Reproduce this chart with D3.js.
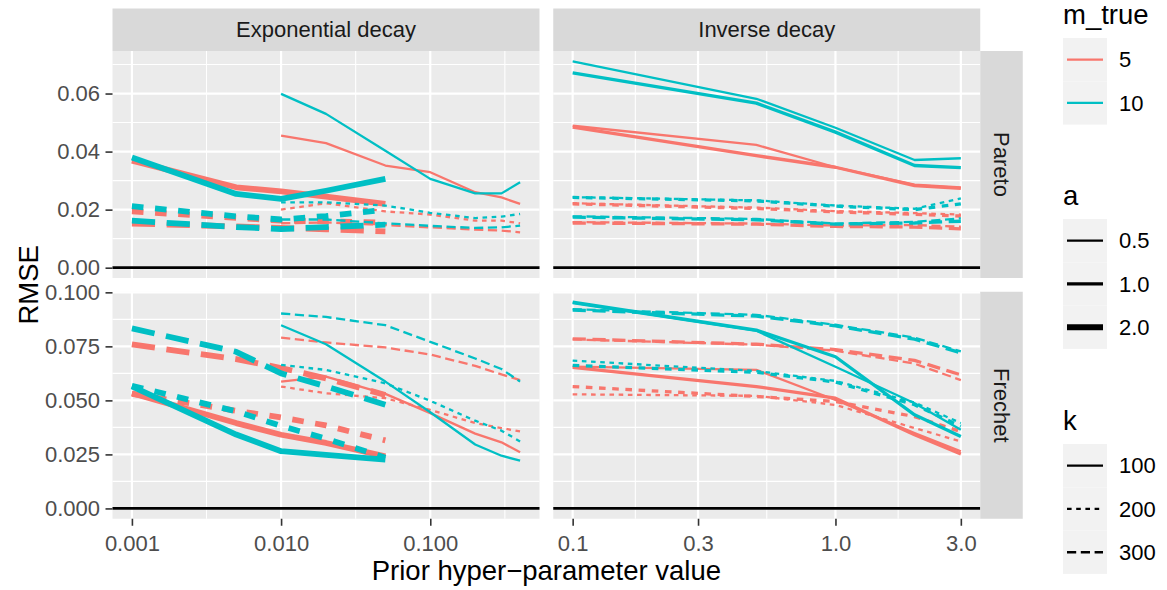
<!DOCTYPE html>
<html>
<head>
<meta charset="utf-8">
<title>RMSE by prior hyper-parameter</title>
<style>
  body { margin: 0; background: #fff; }
  svg text { font-family: 'Liberation Sans', Arial, Helvetica, sans-serif; }
</style>
</head>
<body>
<script src="https://d3js.org/d3.v7.min.js"></script>
<script>

    // hyper-parameter grids
    var xExpThin = [0.01, 0.02, 0.05, 0.1, 0.2, 0.3, 0.4];   // exponential decay, a = 0.5
    var xExpThick = [0.001, 0.005, 0.01, 0.02, 0.05];         // exponential decay, a = 2
    var xInv = [0.1, 0.5, 1, 2, 3];                           // inverse decay

    // rows: [m_true, a, k, RMSE values]
    var paretoExp = [
        [5, 0.5, 100, [0.0455, 0.0429, 0.0352, 0.0329, 0.0260, 0.0242, 0.0220]],
        [5, 0.5, 200, [0.0200, 0.0222, 0.0194, 0.0183, 0.0162, 0.0162, 0.0153]],
        [5, 0.5, 300, [0.0153, 0.0156, 0.0147, 0.0139, 0.0131, 0.0128, 0.0122]],
        [5, 2, 100, [0.0369, 0.0277, 0.0263, 0.0245, 0.0220]],
        [5, 2, 200, [0.0194, 0.0172, 0.0162, 0.0160, 0.0155]],
        [5, 2, 300, [0.0152, 0.0142, 0.0137, 0.0132, 0.0125]],
        [10, 0.5, 100, [0.0599, 0.0530, 0.0403, 0.0306, 0.0256, 0.0256, 0.0294]],
        [10, 0.5, 200, [0.0225, 0.0225, 0.0214, 0.0189, 0.0171, 0.0176, 0.0185]],
        [10, 0.5, 300, [0.0166, 0.0166, 0.0153, 0.0144, 0.0137, 0.0139, 0.0145]],
        [10, 2, 100, [0.0380, 0.0254, 0.0237, 0.0265, 0.0306]],
        [10, 2, 200, [0.0212, 0.0177, 0.0166, 0.0178, 0.0200]],
        [10, 2, 300, [0.0162, 0.0140, 0.0133, 0.0140, 0.0148]]
    ];

    var paretoInv = [
        [5, 0.5, 100, [0.0489, 0.0423, 0.0346, 0.0286, 0.0277]],
        [5, 0.5, 200, [0.0222, 0.0207, 0.0195, 0.0188, 0.0183]],
        [5, 0.5, 300, [0.0157, 0.0152, 0.0145, 0.0147, 0.0141]],
        [5, 1, 100, [0.0484, 0.0386, 0.0346, 0.0283, 0.0273]],
        [5, 1, 200, [0.0220, 0.0204, 0.0192, 0.0184, 0.0178]],
        [5, 1, 300, [0.0154, 0.0150, 0.0142, 0.0140, 0.0134]],
        [10, 0.5, 100, [0.0711, 0.0582, 0.0482, 0.0371, 0.0377]],
        [10, 0.5, 200, [0.0243, 0.0232, 0.0214, 0.0203, 0.0239]],
        [10, 0.5, 300, [0.0177, 0.0168, 0.0152, 0.0158, 0.0170]],
        [10, 1, 100, [0.0671, 0.0567, 0.0467, 0.0352, 0.0345]],
        [10, 1, 200, [0.0242, 0.0230, 0.0212, 0.0200, 0.0220]],
        [10, 1, 300, [0.0174, 0.0165, 0.0150, 0.0154, 0.0160]]
    ];

    var frechetExp = [
        [5, 0.5, 100, [0.0587, 0.0610, 0.0530, 0.0441, 0.0346, 0.0306, 0.0260]],
        [5, 0.5, 200, [0.0564, 0.0533, 0.0510, 0.0456, 0.0395, 0.0372, 0.0356]],
        [5, 0.5, 300, [0.0790, 0.0768, 0.0745, 0.0712, 0.0660, 0.0620, 0.0594]],
        [5, 2, 100, [0.0533, 0.0395, 0.0341, 0.0303, 0.0241]],
        [5, 2, 200, [0.0530, 0.0452, 0.0421, 0.0384, 0.0315]],
        [5, 2, 300, [0.0759, 0.0691, 0.0650, 0.0602, 0.0525]],
        [10, 0.5, 100, [0.0848, 0.0760, 0.0587, 0.0445, 0.0296, 0.0244, 0.0221]],
        [10, 0.5, 200, [0.0664, 0.0641, 0.0579, 0.0498, 0.0406, 0.0360, 0.0310]],
        [10, 0.5, 300, [0.0902, 0.0886, 0.0848, 0.0771, 0.0694, 0.0645, 0.0587]],
        [10, 2, 100, [0.0565, 0.0342, 0.0265, 0.0248, 0.0226]],
        [10, 2, 200, [0.0568, 0.0449, 0.0382, 0.0323, 0.0235]],
        [10, 2, 300, [0.0833, 0.0725, 0.0625, 0.0565, 0.0480]]
    ];

    var frechetInv = [
        [5, 0.5, 100, [0.0656, 0.0641, 0.0502, 0.0349, 0.0264]],
        [5, 0.5, 200, [0.0528, 0.0521, 0.0479, 0.0372, 0.0310]],
        [5, 0.5, 300, [0.0782, 0.0758, 0.0730, 0.0670, 0.0594]],
        [5, 1, 100, [0.0653, 0.0564, 0.0510, 0.0341, 0.0252]],
        [5, 1, 200, [0.0564, 0.0518, 0.0495, 0.0425, 0.0356]],
        [5, 1, 300, [0.0785, 0.0760, 0.0735, 0.0685, 0.0618]],
        [10, 0.5, 100, [0.0950, 0.0822, 0.0656, 0.0487, 0.0364]],
        [10, 0.5, 200, [0.0684, 0.0636, 0.0590, 0.0490, 0.0395]],
        [10, 0.5, 300, [0.0922, 0.0896, 0.0850, 0.0790, 0.0727]],
        [10, 1, 100, [0.0955, 0.0825, 0.0702, 0.0433, 0.0333]],
        [10, 1, 200, [0.0662, 0.0630, 0.0585, 0.0480, 0.0380]],
        [10, 1, 300, [0.0918, 0.0890, 0.0845, 0.0783, 0.0720]]
    ];

    var colNames = ["Exponential decay", "Inverse decay"];
    var rowNames = ["Pareto", "Frechet"];
    var xTicks = [[0.001, 0.01, 0.1], [0.1, 0.3, 1, 3]];
    var yTicks = [[0, 0.02, 0.04, 0.06], [0, 0.025, 0.05, 0.075, 0.1]];

    var mLevels = [5, 10], aLevels = [0.5, 1, 2], kLevels = [100, 200, 300];

    var width = 1167, height = 590;
    var panelW = 427, panelH = 227, gap = 13.75;
    var colX = [112.5, 112.5 + panelW + gap];
    var rowY = [51, 51 + panelH + gap];
    var stripSize = 42.5;

    var color = d3.scaleOrdinal().domain(mLevels).range(["#F8766D", "#00BFC4"]);
    var lineW = d3.scaleOrdinal().domain(aLevels).range([2.3, 3.3, 5.8]);
    function dash(k, w) {
        if (k === 200) return (2 * w) + "," + (2 * w);
        if (k === 300) return (4 * w) + "," + (2 * w);
        return null;
    }

    var panels = [
        {row: 0, col: 0, data: paretoExp},
        {row: 0, col: 1, data: paretoInv},
        {row: 1, col: 0, data: frechetExp},
        {row: 1, col: 1, data: frechetInv}
    ];

    function xsFor(col, a) {
        if (col === 1) return xInv;
        return a === 0.5 ? xExpThin : xExpThick;
    }

    // free scales: x per column, y per row
    var xScales = [0, 1].map(function (c) {
        var all = [];
        panels.filter(function (p) { return p.col === c; }).forEach(function (p) {
            p.data.forEach(function (s) { all = all.concat(xsFor(c, s[1])); });
        });
        var lo = Math.log10(d3.min(all)), hi = Math.log10(d3.max(all)), pad = 0.05 * (hi - lo);
        return d3.scaleLog().domain([Math.pow(10, lo - pad), Math.pow(10, hi + pad)]).range([0, panelW]);
    });
    var yScales = [0, 1].map(function (r) {
        var mx = 0;
        panels.filter(function (p) { return p.row === r; }).forEach(function (p) {
            p.data.forEach(function (s) { mx = Math.max(mx, d3.max(s[3])); });
        });
        return d3.scaleLinear().domain([-0.05 * mx, 1.05 * mx]).range([panelH, 0]);
    });

    function logMinor(scale, ticks) {
        var l = ticks.map(Math.log10), out = [];
        var step0 = l[1] - l[0], stepN = l[l.length - 1] - l[l.length - 2];
        out.push(l[0] - step0 / 2);
        for (var i = 0; i < l.length - 1; i++) out.push((l[i] + l[i + 1]) / 2);
        out.push(l[l.length - 1] + stepN / 2);
        var d = scale.domain().map(Math.log10);
        return out.filter(function (v) { return v > d[0] && v < d[1]; }).map(function (v) { return Math.pow(10, v); });
    }
    function linMinor(scale, ticks) {
        var step = ticks[1] - ticks[0], out = [];
        for (var v = ticks[0] - step / 2; v <= ticks[ticks.length - 1] + step; v += step) out.push(v);
        var d = scale.domain();
        return out.filter(function (v) { return v > d[0] && v < d[1]; });
    }

    var svg = d3.select("body").append("svg")
        .attr("width", width)
        .attr("height", height);

    svg.append("rect").attr("width", width).attr("height", height).attr("fill", "#fff");

    panels.forEach(function (p) {
        var xs = xScales[p.col], ys = yScales[p.row];
        var g = svg.append("g").attr("transform", "translate(" + colX[p.col] + "," + rowY[p.row] + ")");

        g.append("rect").attr("width", panelW).attr("height", panelH).attr("fill", "#EBEBEB");

        // minor grid
        logMinor(xs, xTicks[p.col]).forEach(function (v) {
            g.append("line").attr("x1", xs(v)).attr("x2", xs(v)).attr("y1", 0).attr("y2", panelH)
                .attr("stroke", "#fff").attr("stroke-width", 1.1);
        });
        linMinor(ys, yTicks[p.row]).forEach(function (v) {
            g.append("line").attr("y1", ys(v)).attr("y2", ys(v)).attr("x1", 0).attr("x2", panelW)
                .attr("stroke", "#fff").attr("stroke-width", 1.1);
        });
        // major grid
        xTicks[p.col].forEach(function (v) {
            g.append("line").attr("x1", xs(v)).attr("x2", xs(v)).attr("y1", 0).attr("y2", panelH)
                .attr("stroke", "#fff").attr("stroke-width", 2.2);
        });
        yTicks[p.row].forEach(function (v) {
            g.append("line").attr("y1", ys(v)).attr("y2", ys(v)).attr("x1", 0).attr("x2", panelW)
                .attr("stroke", "#fff").attr("stroke-width", 2.2);
        });

        // reference line at zero
        g.append("line").attr("x1", 0).attr("x2", panelW).attr("y1", ys(0)).attr("y2", ys(0))
            .attr("stroke", "#000").attr("stroke-width", 2.7);

        var line = d3.line().x(function (d) { return xs(d[0]); }).y(function (d) { return ys(d[1]); });

        p.data.forEach(function (s) {
            var xv = xsFor(p.col, s[1]);
            var pts = s[3].map(function (v, i) { return [xv[i], v]; });
            var w = lineW(s[1]);
            g.append("path")
                .datum(pts)
                .attr("d", line)
                .attr("fill", "none")
                .attr("stroke", color(s[0]))
                .attr("stroke-width", w)
                .attr("stroke-dasharray", dash(s[2], w))
                .attr("stroke-linejoin", "round");
        });

        // axes
        if (p.col === 0) {
            var fy = p.row === 0 ? d3.format(".2f") : d3.format(".3f");
            var ay = g.append("g").call(d3.axisLeft(ys).tickValues(yTicks[p.row]).tickFormat(fy)
                .tickSize(7).tickPadding(5.5));
            styleAxis(ay);
        }
        if (p.row === 1) {
            var fx = p.col === 0 ? d3.format(".3f") : d3.format(".1f");
            var ax = g.append("g").attr("transform", "translate(0," + panelH + ")")
                .call(d3.axisBottom(xs).tickValues(xTicks[p.col]).tickFormat(fx)
                .tickSize(7).tickPadding(10));
            styleAxis(ax);
        }
    });

    function styleAxis(a) {
        a.select(".domain").remove();
        a.selectAll(".tick line").attr("stroke", "#333333").attr("stroke-width", 1.6);
        a.selectAll(".tick text").attr("fill", "#4D4D4D").style("font-size", "22px")
            .style("font-family", "'Liberation Sans', Arial, sans-serif");
    }

    // column strips
    colNames.forEach(function (n, i) {
        svg.append("rect").attr("x", colX[i]).attr("y", rowY[0] - stripSize)
            .attr("width", panelW).attr("height", stripSize).attr("fill", "#D9D9D9");
        svg.append("text").attr("x", colX[i] + panelW / 2).attr("y", rowY[0] - stripSize / 2)
            .attr("dy", "0.35em").attr("text-anchor", "middle")
            .attr("fill", "#1A1A1A").style("font-size", "22px").text(n);
    });
    // row strips
    rowNames.forEach(function (n, i) {
        var sx = colX[1] + panelW;
        svg.append("rect").attr("x", sx).attr("y", rowY[i])
            .attr("width", stripSize).attr("height", panelH).attr("fill", "#D9D9D9");
        svg.append("text")
            .attr("transform", "translate(" + (sx + stripSize / 2) + "," + (rowY[i] + panelH / 2) + ") rotate(90)")
            .attr("dy", "0.35em").attr("text-anchor", "middle")
            .attr("fill", "#1A1A1A").style("font-size", "22px").text(n);
    });

    // axis titles
    svg.append("text")
        .attr("x", (colX[0] + colX[1] + panelW) / 2).attr("y", 580)
        .attr("text-anchor", "middle").style("font-size", "27.5px").attr("fill", "#000")
        .text("Prior hyper\u2212parameter value");
    svg.append("text")
        .attr("transform", "translate(28," + (rowY[0] + (rowY[1] + panelH - rowY[0]) / 2) + ") rotate(-90)")
        .attr("dy", "0.35em").attr("text-anchor", "middle").style("font-size", "27.5px").attr("fill", "#000")
        .text("RMSE");

    // legends
    var legX = 1063, keyW = 44, keyH = 43.3;
    function legend(title, top, levels, labels, styler) {
        svg.append("text").attr("x", legX).attr("y", top - 14).style("font-size", "27.5px")
            .attr("fill", "#000").text(title);
        levels.forEach(function (lv, i) {
            var y = top + i * keyH;
            svg.append("rect").attr("x", legX).attr("y", y).attr("width", keyW).attr("height", keyH)
                .attr("fill", "#F2F2F2");
            var ln = svg.append("line").attr("x1", legX + 4).attr("x2", legX + keyW - 4)
                .attr("y1", y + keyH / 2).attr("y2", y + keyH / 2);
            styler(ln, lv);
            svg.append("text").attr("x", legX + keyW + 12).attr("y", y + keyH / 2).attr("dy", "0.35em")
                .style("font-size", "22px").attr("fill", "#000").text(labels[i]);
        });
    }
    legend("m_true", 38, mLevels, ["5", "10"], function (ln, lv) {
        ln.attr("stroke", color(lv)).attr("stroke-width", 2.3);
    });
    legend("a", 219, aLevels, ["0.5", "1.0", "2.0"], function (ln, lv) {
        ln.attr("stroke", "#000").attr("stroke-width", lineW(lv));
    });
    legend("k", 444, kLevels, ["100", "200", "300"], function (ln, lv) {
        ln.attr("stroke", "#000").attr("stroke-width", 2.3).attr("stroke-dasharray", dash(lv, 2.3));
    });

</script>
</body>
</html>
